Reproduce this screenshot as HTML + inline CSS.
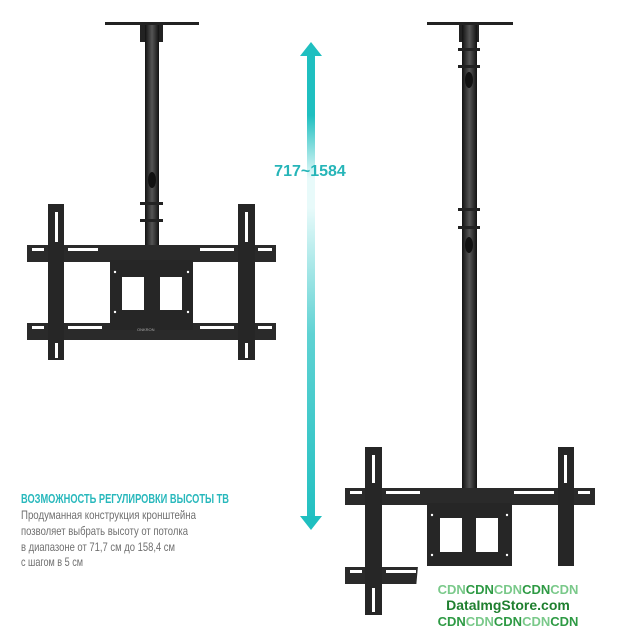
<!DOCTYPE html>
<html><head><meta charset="utf-8"><style>
html,body{margin:0;padding:0;background:#fff;}
svg{display:block}
</style></head><body>
<svg width="618" height="640" viewBox="0 0 618 640" xmlns="http://www.w3.org/2000/svg">
<defs>
<linearGradient id="sh" x1="0" y1="42" x2="0" y2="530" gradientUnits="userSpaceOnUse">
<stop offset="0" stop-color="#1fbfc0"/>
<stop offset="0.15" stop-color="#1fbfc0"/>
<stop offset="0.28" stop-color="#e8fafa"/>
<stop offset="0.34" stop-color="#e8fafa"/>
<stop offset="0.6" stop-color="#5fd2d3"/>
<stop offset="1" stop-color="#1fbfc0"/>
</linearGradient>
<linearGradient id="pole" x1="0" x2="1" y1="0" y2="0">
<stop offset="0" stop-color="#111"/><stop offset="0.5" stop-color="#555"/><stop offset="1" stop-color="#111"/>
</linearGradient>
</defs>

<rect x="307" y="52" width="8" height="466" fill="url(#sh)"/>
<polygon points="300,56 311,42 322,56" fill="#1fbfc0"/>
<polygon points="300,516 311,530 322,516" fill="#1fbfc0"/>
<text x="310" y="176" text-anchor="middle" font-family="Liberation Sans, sans-serif" font-weight="bold" font-size="16" fill="#26b5b8">717~1584</text>

<!-- LEFT MOUNT -->
<rect x="105" y="22" width="94" height="3" fill="#222"/>
<rect x="140" y="25" width="23" height="17" fill="#222"/>
<rect x="145" y="25" width="14" height="222" fill="url(#pole)"/>
<ellipse cx="152" cy="180" rx="4" ry="8" fill="#111"/>
<rect x="140" y="202" width="23" height="3" fill="#222"/>
<rect x="140" y="219" width="23" height="3" fill="#222"/>
<rect x="27" y="245" width="249" height="17" fill="#2a2a2a"/>
<rect x="27" y="323" width="249" height="17" fill="#2a2a2a"/>
<rect x="110" y="260" width="83" height="70" fill="#262626"/>
<rect x="122" y="277" width="22" height="33" fill="#fff"/>
<rect x="160" y="277" width="22" height="33" fill="#fff"/>
<rect x="48" y="204" width="16" height="156" fill="#262626"/>
<rect x="238" y="204" width="17" height="156" fill="#262626"/>
<g fill="#fff">
<rect x="32" y="248" width="12" height="3"/><rect x="68" y="248" width="30" height="3"/><rect x="200" y="248" width="34" height="3"/><rect x="258" y="248" width="14" height="3"/>
<rect x="32" y="326" width="12" height="3"/><rect x="68" y="326" width="34" height="3"/><rect x="200" y="326" width="34" height="3"/><rect x="258" y="326" width="14" height="3"/>
<rect x="55" y="212" width="3" height="30"/><rect x="245" y="212" width="3" height="30"/>
<rect x="55" y="343" width="3" height="15"/><rect x="245" y="343" width="3" height="15"/>
<circle cx="115" cy="272" r="1.2"/><circle cx="188" cy="272" r="1.2"/><circle cx="115" cy="312" r="1.2"/><circle cx="188" cy="312" r="1.2"/>
</g>
<text x="137" y="331" font-family="Liberation Sans, sans-serif" font-size="4" fill="#aaa">ONKRON</text>

<!-- RIGHT MOUNT -->
<rect x="427" y="22" width="86" height="3" fill="#222"/>
<rect x="459" y="25" width="20" height="17" fill="#222"/>
<rect x="462" y="25" width="15" height="465" fill="url(#pole)"/>
<ellipse cx="469" cy="80" rx="4" ry="8" fill="#111"/>
<ellipse cx="469" cy="245" rx="4" ry="8" fill="#111"/>
<rect x="458" y="48" width="22" height="3" fill="#222"/><rect x="458" y="65" width="22" height="3" fill="#222"/>
<rect x="458" y="208" width="22" height="3" fill="#222"/><rect x="458" y="226" width="22" height="3" fill="#222"/>
<rect x="345" y="488" width="250" height="17" fill="#2a2a2a"/>
<rect x="345" y="567" width="250" height="17" fill="#2a2a2a"/>
<rect x="427" y="503" width="85" height="64" fill="#262626"/>
<rect x="440" y="518" width="22" height="34" fill="#fff"/>
<rect x="476" y="518" width="22" height="34" fill="#fff"/>
<rect x="365" y="447" width="17" height="168" fill="#262626"/>
<rect x="558" y="447" width="16" height="168" fill="#262626"/>
<g fill="#fff">
<rect x="350" y="491" width="12" height="3"/><rect x="386" y="491" width="34" height="3"/><rect x="514" y="491" width="40" height="3"/><rect x="578" y="491" width="12" height="3"/>
<rect x="350" y="570" width="12" height="3"/><rect x="386" y="570" width="30" height="3"/>
<rect x="372" y="455" width="3" height="28"/><rect x="564" y="455" width="3" height="28"/>
<rect x="372" y="588" width="3" height="24"/>
<circle cx="432" cy="515" r="1.2"/><circle cx="507" cy="515" r="1.2"/><circle cx="432" cy="555" r="1.2"/><circle cx="507" cy="555" r="1.2"/>
</g>

<path d="M418,566 L600,566 L600,632 L412,632 Z" fill="#fff"/>
<g font-family="Liberation Sans, sans-serif" font-weight="bold" text-anchor="middle">
<text x="508" y="594" font-size="13"><tspan fill="#7ac98a">CDN</tspan><tspan fill="#2e9a44">CDN</tspan><tspan fill="#7ac98a">CDN</tspan><tspan fill="#2e9a44">CDN</tspan><tspan fill="#7ac98a">CDN</tspan></text>
<text x="508" y="610" font-size="14" fill="#1f7f2f">DataImgStore.com</text>
<text x="508" y="626" font-size="13"><tspan fill="#2e9a44">CDN</tspan><tspan fill="#7ac98a">CDN</tspan><tspan fill="#2e9a44">CDN</tspan><tspan fill="#7ac98a">CDN</tspan><tspan fill="#2e9a44">CDN</tspan></text>
</g>

<text x="21" y="503" font-family="Liberation Sans, sans-serif" font-weight="bold" font-size="12.5" fill="#28b8bc" textLength="208" lengthAdjust="spacingAndGlyphs">ВОЗМОЖНОСТЬ РЕГУЛИРОВКИ ВЫСОТЫ ТВ</text>
<g font-family="Liberation Sans, sans-serif" font-size="12" fill="#6f6f6f">
<text x="21" y="519" textLength="175" lengthAdjust="spacingAndGlyphs">Продуманная конструкция кронштейна</text>
<text x="21" y="535" textLength="167" lengthAdjust="spacingAndGlyphs">позволяет выбрать высоту от потолка</text>
<text x="21" y="551" textLength="154" lengthAdjust="spacingAndGlyphs">в диапазоне от 71,7 см до 158,4 см</text>
<text x="21" y="566" textLength="62" lengthAdjust="spacingAndGlyphs">с шагом в 5 см</text>
</g>
</svg>
</body></html>
